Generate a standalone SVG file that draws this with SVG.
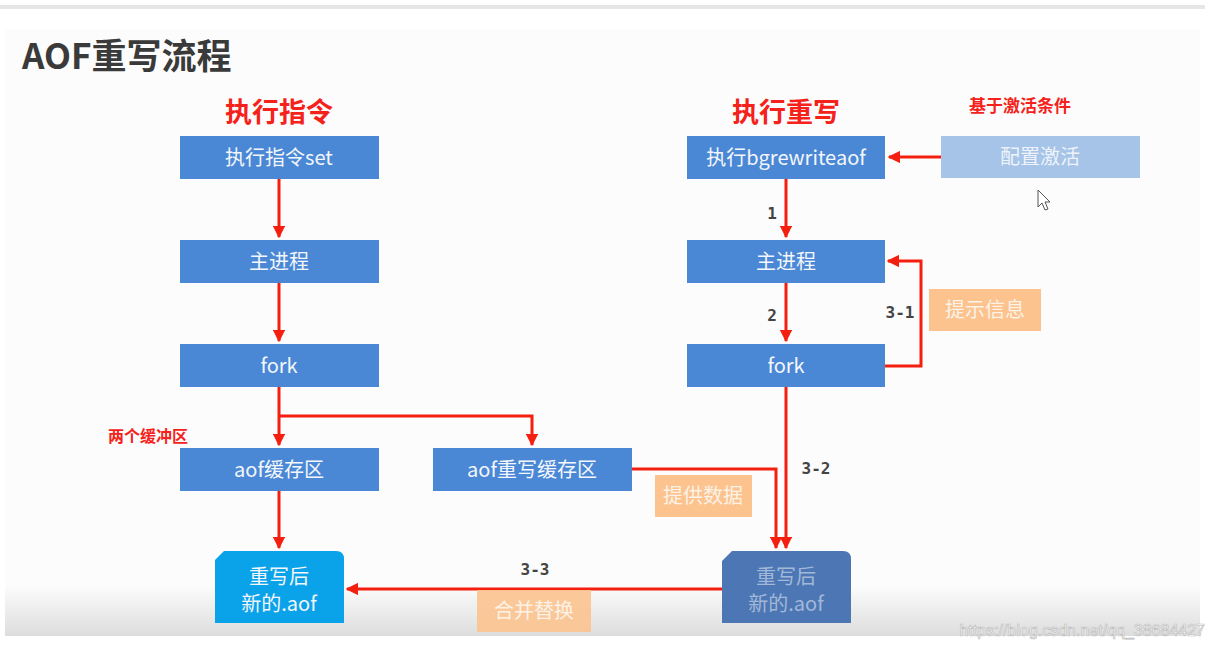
<svg xmlns="http://www.w3.org/2000/svg" width="1215" height="648" viewBox="0 0 1215 648">
<defs>
<linearGradient id="bottomShade" x1="0" y1="0" x2="0" y2="1">
<stop offset="0" stop-color="#fbfcfb"/>
<stop offset="1" stop-color="#dcdddc"/>
</linearGradient>
<marker id="arr" viewBox="0 0 10 10" refX="9" refY="5" markerWidth="4.2" markerHeight="4.2" orient="auto" markerUnits="strokeWidth">
<path d="M0,0 L10,5 L0,10 z" fill="#f51f10"/>
</marker>
<style>
.box{fill:#4a88d6;}
.lt{fill:#f3f6fa;font-family:"Noto Sans CJK SC","Noto Sans",sans-serif;font-size:20px;text-anchor:middle;}
.dim{fill:#a3b8d8;}
.cfg{fill:#eef3fa;}
.or{fill:#fcc38f;}
.ot{fill:#fdf2e6;font-family:"Noto Sans CJK SC",sans-serif;font-size:20px;text-anchor:middle;}
.red{fill:#f5221b;font-family:"Noto Sans CJK SC",sans-serif;font-weight:bold;text-anchor:middle;}
.num{fill:#444;font-family:"DejaVu Sans Mono","Liberation Mono",monospace;font-size:16px;font-weight:bold;text-anchor:middle;}
.ln{fill:none;stroke:#f51f10;stroke-width:3;}
</style>
</defs>
<rect x="0" y="0" width="1215" height="648" fill="#ffffff"/>
<rect x="0" y="5" width="1205" height="4" fill="#e6e6e6"/>
<rect x="5" y="30" width="1195" height="606" fill="#fbfcfb"/>
<rect x="5" y="585" width="1195" height="51" fill="url(#bottomShade)"/>
<text x="22" y="69" font-family="Noto Sans CJK SC,sans-serif" font-size="35" font-weight="bold" fill="#3a3a3a">AOF重写流程</text>

<text class="red" x="279" y="122" font-size="27">执行指令</text>
<text class="red" x="786" y="122" font-size="27">执行重写</text>
<text class="red" x="1020" y="112" font-size="17">基于激活条件</text>
<text class="red" x="148" y="442" font-size="16">两个缓冲区</text>

<g id="connectors">
<path class="ln" d="M279,179 V237" marker-end="url(#arr)"/>
<path class="ln" d="M279,283 V341" marker-end="url(#arr)"/>
<path class="ln" d="M279,387 V445" marker-end="url(#arr)"/>
<path class="ln" d="M279,416 H532 V445" marker-end="url(#arr)"/>
<path class="ln" d="M279,491 V548" marker-end="url(#arr)"/>
<path class="ln" d="M941,157 H889" marker-end="url(#arr)"/>
<path class="ln" d="M786,179 V237" marker-end="url(#arr)"/>
<path class="ln" d="M786,283 V341" marker-end="url(#arr)"/>
<path class="ln" d="M885,366 H921 V261 H888" marker-end="url(#arr)"/>
<path class="ln" d="M786,387 V548" marker-end="url(#arr)"/>
<path class="ln" d="M632,469 H776 V548" marker-end="url(#arr)"/>
<path class="ln" d="M722,589 H347" marker-end="url(#arr)"/>
</g>
<text class="num" x="772" y="219">1</text>
<text class="num" x="772" y="321">2</text>
<text class="num" x="900" y="318">3-1</text>
<text class="num" x="816" y="474">3-2</text>
<text class="num" x="535" y="575">3-3</text>

<g id="n-set"><rect class="box" x="180" y="136" width="199" height="43"/><text class="lt" x="279" y="165">执行指令set</text></g>
<g id="n-main-l"><rect class="box" x="180" y="240" width="199" height="43"/><text class="lt" x="279" y="269">主进程</text></g>
<g id="n-fork-l"><rect class="box" x="180" y="344" width="199" height="43"/><text class="lt" x="279" y="373">fork</text></g>
<g id="n-aofbuf"><rect class="box" x="180" y="448" width="199" height="43"/><text class="lt" x="279" y="477">aof缓存区</text></g>
<g id="n-rwbuf"><rect class="box" x="433" y="448" width="199" height="43"/><text class="lt" x="532" y="477">aof重写缓存区</text></g>
<g id="n-bgrw"><rect class="box" x="687" y="136" width="198" height="43"/><text class="lt" x="786" y="165">执行bgrewriteaof</text></g>
<g id="n-main-r"><rect class="box" x="687" y="240" width="198" height="43"/><text class="lt" x="786" y="269">主进程</text></g>
<g id="n-fork-r"><rect class="box" x="687" y="344" width="198" height="43"/><text class="lt" x="786" y="373">fork</text></g>
<g id="n-config"><rect x="941" y="136" width="199" height="42" fill="#a6c3e8"/><text class="lt cfg" x="1040" y="164">配置激活</text></g>
<g id="n-tip"><rect class="or" x="929" y="289" width="112" height="42"/><text class="ot" x="985" y="317">提示信息</text></g>
<g id="n-provide"><rect class="or" x="655" y="475" width="97" height="42"/><text class="ot" x="703" y="503">提供数据</text></g>
<g id="n-merge"><rect class="or" x="477" y="590" width="114" height="42" fill-opacity="0.9"/><text class="ot" x="534" y="618">合并替换</text></g>
<g id="n-new-l"><path d="M224,551 H336 Q344,551 344,559 V623 H215 V560 Z" fill="#0aa3ea"/><text class="lt" x="279" y="584">重写后</text><text class="lt" x="279" y="611">新的.aof</text></g>
<g id="n-new-r"><path d="M732,551 H843 Q851,551 851,559 V623 H722 V561 Z" fill="#4c77b4"/><text class="lt dim" x="786" y="584">重写后</text><text class="lt dim" x="786" y="611">新的.aof</text></g>

<path d="M1038,190 V207 L1042,203 L1045,210 L1048,209 L1045,202 L1050,202 Z" fill="#ffffff" stroke="#555" stroke-width="1"/>
<text x="1205" y="636" font-family="Liberation Sans,sans-serif" font-size="16" fill="#ffffff" stroke="#bdbdbd" stroke-width="0.7" text-anchor="end">https://blog.csdn.net/qq_38684427</text>
</svg>
